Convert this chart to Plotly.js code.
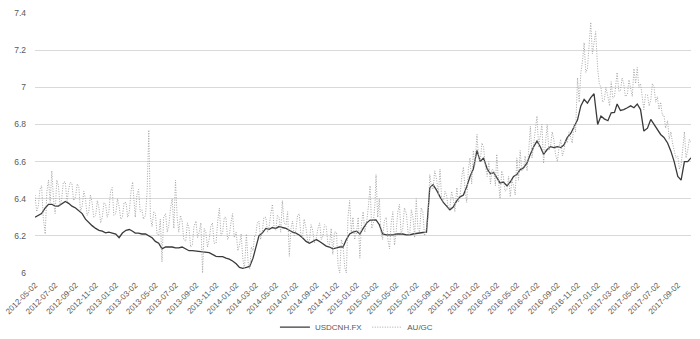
<!DOCTYPE html>
<html>
<head>
<meta charset="utf-8">
<script src="https://cdn.plot.ly/plotly-3.0.1.min.js"></script>
<style>html,body{margin:0;padding:0;background:#fff;}#chart{width:700px;height:339px;}</style>
</head>
<body>
<div id="chart"></div>
<script>
// Sample months
var months = [
 "2012-05","2012-06","2012-07","2012-08","2012-09","2012-10","2012-11","2012-12",
 "2013-01","2013-02","2013-03","2013-04","2013-05","2013-06","2013-07","2013-08","2013-09","2013-10","2013-11","2013-12",
 "2014-01","2014-02","2014-03","2014-04","2014-05","2014-06","2014-07","2014-08","2014-09","2014-10","2014-11","2014-12",
 "2015-01","2015-02","2015-03","2015-04","2015-05","2015-06","2015-07","2015-08","2015-09","2015-10","2015-11","2015-12",
 "2016-01","2016-02","2016-03","2016-04","2016-05","2016-06","2016-07","2016-08","2016-09","2016-10","2016-11","2016-12",
 "2017-01","2017-02","2017-03","2017-04","2017-05","2017-06","2017-07","2017-08","2017-09","2017-10"
];
var usdDays = ["02","12","22"];
var auDays = ["02","07","12","17","22","27"];

// USDCNH.FX, three readings per month
var usdcnh = [
 6.30,6.31,6.32, 6.35,6.37,6.37, 6.36,6.36,6.37, 6.385,6.375,6.36, 6.35,6.335,6.32, 6.29,6.27,6.255, 6.24,6.23,6.225, 6.216,6.22,6.215,
 6.21,6.19,6.215, 6.23,6.234,6.225, 6.215,6.215,6.21, 6.21,6.20,6.19, 6.17,6.16,6.13, 6.14,6.14,6.14, 6.135,6.135,6.14, 6.13,6.12,6.12, 6.118,6.115,6.113, 6.11,6.11,6.10, 6.09,6.088,6.088, 6.08,6.075,6.065,
 6.05,6.03,6.025, 6.03,6.035,6.08, 6.14,6.20,6.215, 6.24,6.235,6.245, 6.24,6.25,6.245, 6.24,6.23,6.22, 6.215,6.205,6.19, 6.17,6.16,6.17, 6.18,6.17,6.155, 6.145,6.14,6.13, 6.135,6.14,6.14, 6.18,6.21,6.22,
 6.225,6.21,6.24, 6.27,6.285,6.286, 6.286,6.26,6.21, 6.205,6.205,6.205, 6.21,6.21,6.21, 6.205,6.205,6.21, 6.214,6.215,6.218, 6.22,6.46,6.475, 6.445,6.41,6.38, 6.36,6.34,6.355, 6.39,6.41,6.42, 6.465,6.52,6.56,
 6.66,6.60,6.62, 6.56,6.535,6.54, 6.51,6.485,6.49, 6.47,6.49,6.52, 6.53,6.557,6.566, 6.593,6.64,6.68, 6.71,6.68,6.64, 6.665,6.68,6.675, 6.68,6.675,6.69, 6.73,6.75,6.785, 6.825,6.90,6.935, 6.915,6.944,6.965,
 6.80,6.845,6.83, 6.82,6.863,6.865, 6.91,6.875,6.88, 6.89,6.90,6.89, 6.91,6.88,6.764, 6.78,6.827,6.80, 6.773,6.746,6.73, 6.70,6.656,6.60, 6.52,6.50,6.60, 6.60,6.62
];

// AU/GC, six readings per month
var augc = [
 6.42,6.33,6.36,6.45,6.47,6.30,  6.21,6.44,6.50,6.38,6.55,6.40,  6.32,6.50,6.47,6.36,6.40,6.49,  6.49,6.38,6.45,6.49,6.48,6.39,
 6.41,6.48,6.46,6.33,6.36,6.44,  6.40,6.31,6.33,6.42,6.38,6.30,  6.31,6.39,6.35,6.27,6.30,6.38,  6.37,6.30,6.33,6.44,6.46,6.31,
 6.32,6.40,6.36,6.29,6.30,6.38,  6.38,6.30,6.33,6.44,6.49,6.35,  6.30,6.42,6.45,6.33,6.34,6.29,  6.31,6.44,6.77,6.30,6.25,6.33,
 6.32,6.21,6.20,6.29,6.06,6.30,  6.32,6.22,6.26,6.35,6.40,6.24,  6.50,6.30,6.22,6.31,6.28,6.18,  6.17,6.27,6.24,6.14,6.15,6.25,
 6.28,6.19,6.22,6.27,6.00,6.24,  6.22,6.14,6.18,6.25,6.27,6.16,  6.16,6.28,6.35,6.20,6.22,6.30,  6.30,6.18,6.20,6.27,6.32,6.19,
 6.22,6.12,6.15,6.21,6.08,6.02,  6.21,6.06,6.02,6.14,6.12,6.20,  6.20,6.27,6.28,6.18,6.22,6.30,  6.30,6.22,6.25,6.32,6.37,6.24,
 6.23,6.31,6.30,6.22,6.39,6.27,  6.26,6.33,6.09,6.24,6.28,6.20,  6.23,6.31,6.32,6.21,6.19,6.29,  6.24,6.17,6.17,6.26,6.23,6.16,
 6.19,6.24,6.27,6.18,6.20,6.26,  6.25,6.16,6.15,6.24,6.10,6.22,  6.22,6.04,6.00,6.18,6.15,6.03,  6.00,6.30,6.39,6.22,6.30,6.18,
 6.22,6.30,6.08,6.27,6.33,6.22,  6.28,6.36,6.47,6.24,6.27,6.38,  6.53,6.30,6.40,6.22,6.18,6.28,  6.30,6.18,6.13,6.27,6.33,6.15,
 6.22,6.33,6.37,6.21,6.24,6.35,  6.32,6.22,6.20,6.34,6.30,6.19,  6.40,6.24,6.22,6.35,6.33,6.20,  6.24,6.30,6.53,6.46,6.45,6.55,
 6.50,6.42,6.56,6.40,6.38,6.44,  6.42,6.34,6.35,6.44,6.40,6.33,  6.46,6.38,6.42,6.52,6.57,6.45,  6.38,6.56,6.62,6.48,6.66,6.58,
 6.746,6.62,6.60,6.70,6.68,6.58, 6.52,6.60,6.48,6.56,6.55,6.47,  6.64,6.50,6.40,6.55,6.52,6.44,  6.45,6.52,6.41,6.50,6.47,6.42,
 6.62,6.50,6.66,6.55,6.56,6.63,  6.55,6.66,6.79,6.62,6.70,6.76,  6.845,6.68,6.74,6.80,6.59,6.70, 6.80,6.66,6.68,6.76,6.72,6.64,
 6.60,6.68,6.72,6.63,6.66,6.72,  6.70,6.76,6.73,6.70,6.80,6.76,  7.05,6.92,7.08,7.14,7.24,7.08,  7.10,7.22,7.35,7.18,7.25,7.30,
 7.10,7.02,7.00,6.92,6.93,7.00,  6.95,6.90,7.03,6.94,6.95,7.05,  7.08,6.98,6.98,7.05,7.02,6.95,  6.96,7.04,7.00,6.95,7.10,7.02,
 7.107,7.00,7.02,6.95,6.88,6.96, 6.96,6.90,6.93,7.02,7.00,6.92,  6.95,6.88,6.92,6.85,6.85,6.78,  6.82,6.72,6.76,6.70,6.66,6.62,
 6.63,6.56,6.58,6.66,6.76,6.62,  6.66,6.72,6.70
];

var tickLabels = [
 "2012-05-02","2012-07-02","2012-09-02","2012-11-02","2013-01-02","2013-03-02","2013-05-02","2013-07-02","2013-09-02","2013-11-02",
 "2014-01-02","2014-03-02","2014-05-02","2014-07-02","2014-09-02","2014-11-02","2015-01-02","2015-03-02","2015-05-02","2015-07-02",
 "2015-09-02","2015-11-02","2016-01-02","2016-03-02","2016-05-02","2016-07-02","2016-09-02","2016-11-02","2017-01-02","2017-03-02",
 "2017-05-02","2017-07-02","2017-09-02"
];

function buildDates(dayList, n) {
  var out = [];
  months.forEach(function(m){ dayList.forEach(function(d){ out.push(m + "-" + d); }); });
  return out.slice(0, n);
}
var usdDates = buildDates(usdDays, usdcnh.length);
var auDates = buildDates(auDays, augc.length);

var font = "Liberation Sans, Arial, sans-serif";
var traces = [
 {x: usdDates, y: usdcnh, name: "USDCNH.FX", type: "scatter", mode: "lines",
  line: {color: "#3a3a3a", width: 1.3}},
 {x: auDates, y: augc, name: "AU/GC", type: "scatter", mode: "lines",
  line: {color: "#a6a6a6", width: 1, dash: "1px,1.5px"}}
];
var layout = {
 width: 700, height: 339,
 margin: {l: 35, r: 9, t: 13, b: 66},
 paper_bgcolor: "#ffffff", plot_bgcolor: "#ffffff",
 font: {family: font, size: 8, color: "#595959"},
 showlegend: true,
 legend: {orientation: "h", x: 0.49, xanchor: "center", yref: "container", y: 0.035, yanchor: "middle",
  font: {family: font, size: 8, color: "#595959"}, itemwidth: 30, bgcolor: "rgba(0,0,0,0)"},
 xaxis: {type: "date", range: ["2012-05-02", "2017-10-12"],
  tickmode: "array", tickvals: tickLabels, ticktext: tickLabels,
  tickangle: -45, tickfont: {family: font, size: 8, color: "#595959"},
  showgrid: false, zeroline: false, showline: false, ticks: "", ticklabelstandoff: 5, automargin: false},
 yaxis: {range: [6, 7.4], tick0: 6, dtick: 0.2, showgrid: true, gridcolor: "#d9d9d9", gridwidth: 1,
  zeroline: false, showline: false, ticks: "", ticklabelstandoff: 8, automargin: false,
  tickfont: {family: font, size: 8.5, color: "#595959"}}
};
Plotly.newPlot("chart", traces, layout, {displayModeBar: false, staticPlot: true});
</script>
</body>
</html>
